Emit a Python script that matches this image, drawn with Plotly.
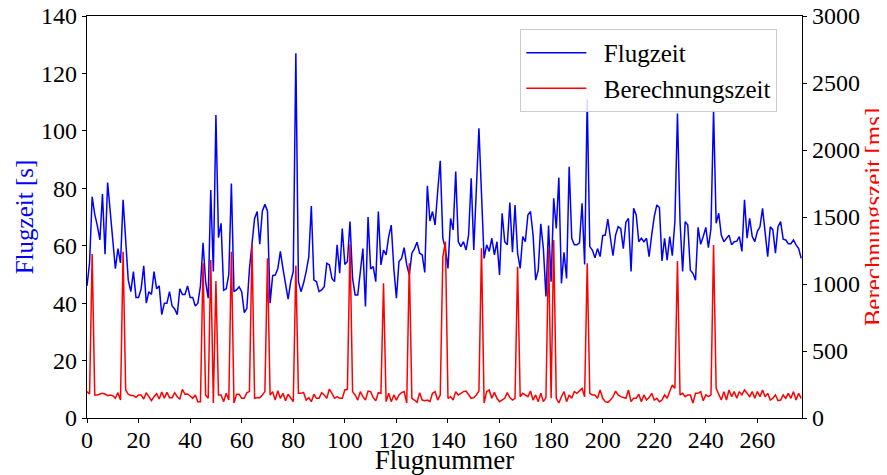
import plotly.graph_objects as go

# Flugzeit [s] per Flugnummer
flugzeit = [
    46, 54, 77, 71, 67, 62, 78, 57, 82, 73,
    62, 52, 59, 54, 76, 62, 48, 44, 51, 42,
    42, 45, 53, 40, 44, 43, 51, 45, 46, 36,
    40, 40, 44, 39, 38, 36, 45, 43, 43, 46,
    42, 42, 39, 40, 46, 61, 47.5, 41.7, 79.4, 51,
    105.5, 62.8, 67.8, 44.5, 45, 50, 81.7, 44, 44.6, 45.7,
    44, 36.7, 38.2, 52, 60, 69.5, 71.9, 60.5, 72, 74.4,
    72, 40, 49.6, 49.8, 52, 58, 52, 46.3, 41.4, 47.5,
    51, 127, 47.5, 44, 47, 51, 56, 73.8, 48, 47.5,
    44, 44.6, 45.7, 53.9, 53.3, 48.6, 47.5, 60.3, 50.4, 66,
    53.5, 54.5, 68.4, 48.6, 42.8, 42.8, 51, 59, 38.8, 70,
    51.9, 52.7, 47.5, 71.9, 53.3, 58.5, 56.8, 63.2, 67.2, 52.1,
    41.7, 54.5, 55.6, 59.3, 53.3, 49.8, 57.4, 59, 61.2, 57.4,
    56.8, 50.7, 80.9, 68.6, 71.9, 67.2, 78.8, 89.6, 62.6, 59,
    52.1, 69.5, 65.5, 85.8, 61.4, 59.7, 61.4, 58.5, 63.7, 83.5,
    58.5, 80, 100.9, 78, 55.6, 60.3, 58, 62.6, 56.8, 61.4,
    49.8, 71.3, 61.4, 60.3, 75, 57.7, 74.2, 57.4, 52.1, 63.2,
    61.4, 70.7, 71.9, 63.7, 48, 51.5, 67.6, 59, 42.3, 67,
    47.5, 76.5, 66, 83.7, 46.9, 57.7, 48.6, 87.5, 62.6, 60.3,
    60.3, 61, 74.8, 53.5, 111, 59.7, 58.5, 55.8, 59, 56.2,
    63.5, 63.7, 69.3, 62.6, 56.5, 63.7, 66.6, 66, 59, 68.2,
    69.5, 51, 73, 70.7, 61.4, 62.6, 61.4, 62.6, 56.2, 63.7,
    70.1, 74.2, 73.3, 54.7, 62.6, 55, 63.2, 56.5, 68.4, 106,
    68.4, 51, 68.4, 67.2, 51.5, 50.4, 48, 66.4, 60.5, 63.2,
    66.4, 59.3, 66, 107.3, 67.8, 71.3, 63.7, 61.4, 62.6, 63.7,
    60.3, 61.4, 61.6, 63.2, 58, 76, 62.6, 69.5, 63.2, 61.4,
    65, 66.6, 73, 63.2, 56.2, 66.6, 65.5, 57.4, 66.6, 68.4,
    62.3, 62, 60.7, 60.7, 62, 60.3, 59, 55.6,
]

# Berechnungszeit [ms] per Flugnummer
berechnungszeit = [
    197, 179, 1224, 172, 172, 177, 184, 179, 167, 172,
    167, 147, 189, 134, 1240, 209, 177, 167, 167, 154,
    172, 172, 142, 189, 159, 129, 159, 182, 142, 194,
    147, 191, 152, 152, 189, 159, 142, 214, 177, 179,
    164, 147, 172, 122, 122, 1154, 172, 147, 1179, 112,
    1022, 172, 172, 122, 184, 134, 1241, 112, 177, 177,
    147, 147, 189, 197, 1296, 147, 152, 152, 172, 197,
    1192, 172, 197, 134, 204, 147, 184, 129, 177, 147,
    122, 1137, 184, 184, 191, 134, 152, 122, 177, 147,
    147, 189, 172, 147, 216, 184, 147, 159, 147, 147,
    209, 214, 1296, 197, 172, 134, 197, 159, 134, 201,
    197, 152, 129, 189, 184, 1005, 122, 184, 122, 172,
    134, 172, 189, 197, 112, 1154, 147, 134, 117, 189,
    134, 129, 134, 122, 184, 197, 134, 172, 1200, 1316,
    147, 159, 134, 197, 172, 184, 197, 201, 172, 147,
    152, 172, 201, 1266, 112, 197, 209, 147, 191, 147,
    122, 134, 147, 189, 152, 134, 147, 1129, 159, 184,
    172, 159, 201, 134, 172, 122, 184, 122, 152, 1266,
    147, 1328, 147, 112, 159, 197, 122, 172, 147, 197,
    184, 201, 221, 159, 1154, 184, 172, 172, 147, 209,
    147, 122, 117, 134, 159, 201, 172, 159, 152, 147,
    209, 122, 147, 147, 177, 122, 172, 134, 152, 184,
    134, 147, 122, 134, 172, 147, 197, 246, 221, 1172,
    172, 184, 159, 172, 172, 112, 184, 184, 197, 129,
    172, 159, 172, 1291, 221, 172, 134, 197, 134, 209,
    159, 197, 147, 197, 172, 209, 184, 159, 197, 147,
    197, 159, 209, 159, 184, 134, 147, 172, 129, 134,
    172, 147, 184, 147, 197, 134, 184, 147,
]

flugnummer = list(range(len(flugzeit)))
x_ticks = list(range(0, 261, 20))
y1_ticks = list(range(0, 141, 20))
y2_ticks = list(range(0, 3001, 500))

FONT = "Liberation Serif"

fig = go.Figure()
fig.add_trace(go.Scatter(x=flugnummer, y=flugzeit, mode="lines", name="\u00a0\u00a0Flugzeit",
                         legendgroup="a",
                         line=dict(color="#0000ff", width=1.5), yaxis="y"))
fig.add_trace(go.Scatter(x=flugnummer, y=berechnungszeit, mode="lines", name="\u00a0\u00a0Berechnungszeit",
                         legendgroup="b",
                         line=dict(color="#ff0000", width=1.5), yaxis="y2"))

axis_common = dict(showgrid=False, zeroline=False, showline=True, linecolor="black", linewidth=1.2,
                   ticks="outside", ticklen=4, tickwidth=1, tickcolor="black", automargin=False,
                   ticklabeloverflow="allow",
                   tickfont=dict(family=FONT, size=24, color="black"))

# page body has an 8px default margin, so the figure is sized/offset to compensate
fig.update_layout(
    width=879, height=467, autosize=False,
    margin=dict(l=79, r=85, t=8, b=57),
    paper_bgcolor="white", plot_bgcolor="white",
    font=dict(family=FONT, size=24, color="black"),
    xaxis=dict(range=[0, 277.3], tickvals=x_ticks, mirror=True, ticklabelstandoff=-4,
               title=dict(text="Flugnummer", font=dict(family=FONT, size=27, color="black"), standoff=6),
               **axis_common),
    yaxis=dict(range=[0, 140], tickvals=y1_ticks,
               title=dict(text="Flugzeit [s]", font=dict(family=FONT, size=25, color="#0000ff"), standoff=0),
               **axis_common),
    yaxis2=dict(range=[0, 3000], tickvals=y2_ticks, overlaying="y", side="right", anchor="x",
                title=dict(text="Berechnungszeit [ms]", font=dict(family=FONT, size=25, color="#ff0000"), standoff=6),
                **axis_common),
    legend=dict(x=0.606, y=0.9677, xanchor="left", yanchor="top",
                bgcolor="rgba(255,255,255,0.85)", bordercolor="#cccccc", borderwidth=1,
                tracegroupgap=0,
                font=dict(family=FONT, size=25, color="black"), itemwidth=60),
    showlegend=True,
)

fig.write_html("out.html")
